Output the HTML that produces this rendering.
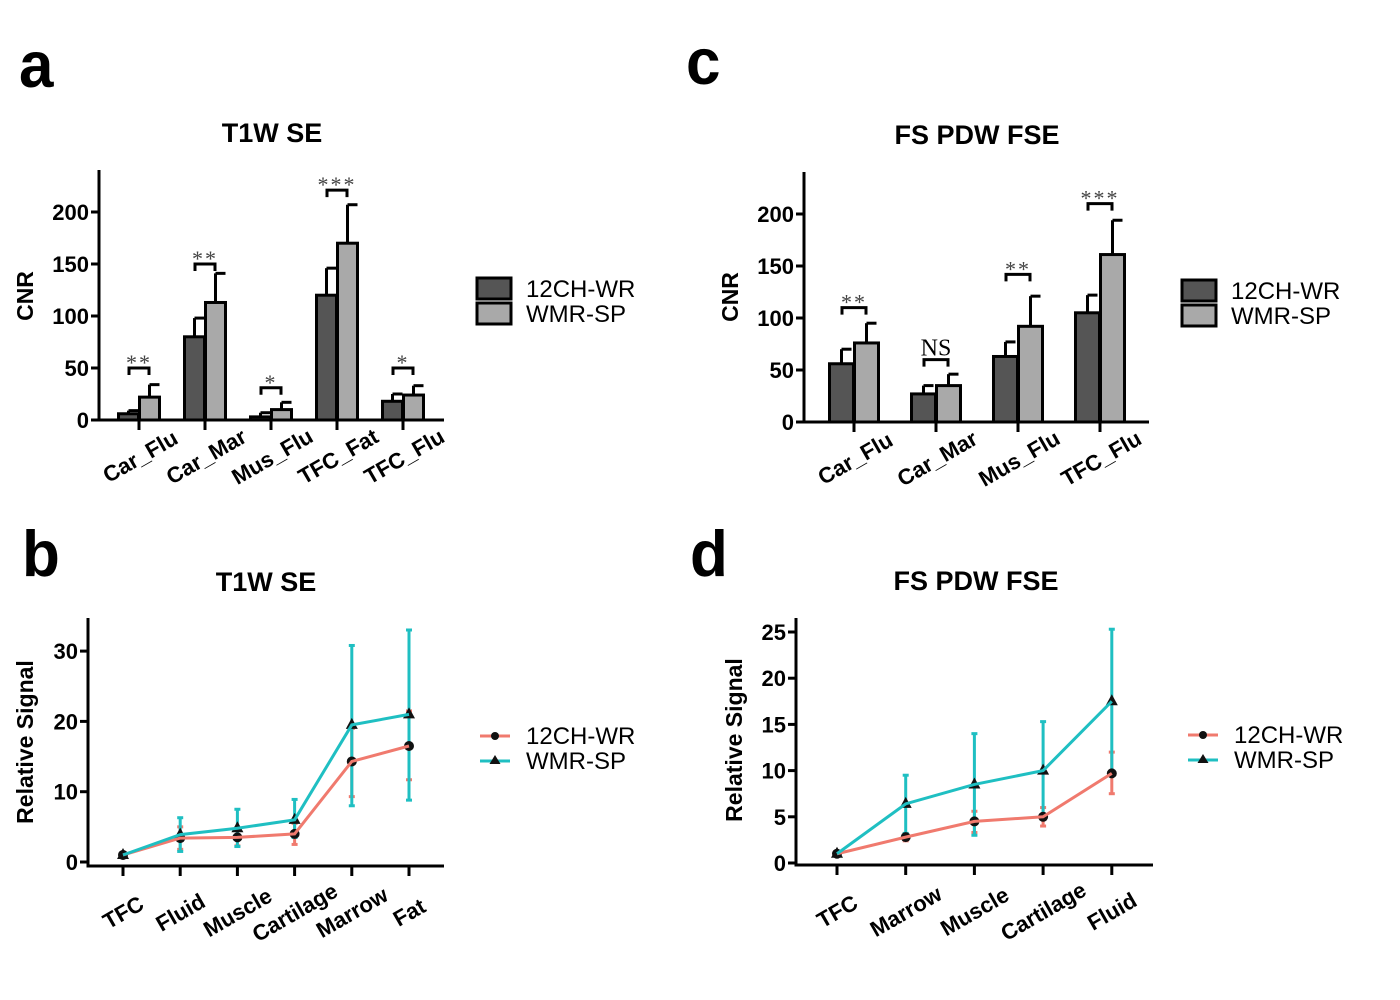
<!DOCTYPE html>
<html><head><meta charset="utf-8"><style>
html,body{margin:0;padding:0;background:#fff;}
svg{display:block;font-family:"Liberation Sans",Arial,sans-serif;}
</style></head><body>
<svg id="fig" width="1400" height="1000" viewBox="0 0 1400 1000"></svg>
<script>
// ---- Panel a data ----
const aCats = ["Car_Flu","Car_Mar","Mus_Flu","TFC_Fat","TFC_Flu"];
const aDark = [6,80,3,120,18];
const aDarkErr = [9,98,7,146,25];
const aLight = [22,113,10,170,24];
const aLightErr = [34,141,17,207,33];
const aSig = ["**","**","*","***","*"];
const aSigY = [50,150,31,221,50];
const aTicks = [0,50,100,150,200];
// ---- Panel c data ----
const cCats = ["Car_Flu","Car_Mar","Mus_Flu","TFC_Flu"];
const cDark = [56,27,63,105];
const cDarkErr = [70,35,77,122];
const cLight = [76,35,92,161];
const cLightErr = [95,46,121,194];
const cSig = ["**","NS","**","***"];
const cSigY = [110,60,142,210];
const cTicks = [0,50,100,150,200];
// ---- Panel b data ----
const bCats = ["TFC","Fluid","Muscle","Cartilage","Marrow","Fat"];
const bRed = [1,3.4,3.5,4,14.3,16.5];
const bRedLo = [1,1.8,2.3,2.5,9.3,11.7];
const bRedHi = [1,5,4.7,5.5,19,21.5];
const bTeal = [1,3.9,4.8,6,19.5,21];
const bTealLo = [1,1.5,2.2,3.5,8,8.8];
const bTealHi = [1,6.3,7.5,8.9,30.8,33];
const bTicks = [0,10,20,30];
// ---- Panel d data ----
const dCats = ["TFC","Marrow","Muscle","Cartilage","Fluid"];
const dRed = [1,2.8,4.5,5,9.7];
const dRedLo = [1,2.4,3.3,4,7.5];
const dRedHi = [1,3.2,5.6,6,12];
const dTeal = [1,6.4,8.5,10,17.5];
const dTealLo = [1,3.2,3,5,9.8];
const dTealHi = [1,9.5,14,15.3,25.3];
const dTicks = [0,5,10,15,20,25];

const NS="http://www.w3.org/2000/svg";
const svg=document.getElementById('fig');
function el(tag,attrs,parent,text){const e=document.createElementNS(NS,tag);for(const k in attrs)e.setAttribute(k,attrs[k]);if(text!==undefined)e.textContent=text;(parent||svg).appendChild(e);return e;}

function text(x,y,s,size,opts){opts=opts||{};const t=el('text',{x:x,y:y,'font-size':size,'font-weight':opts.weight||'bold','text-anchor':opts.anchor||'middle',fill:'#000'},opts.parent,s);if(opts.rot!==undefined)t.setAttribute('transform','rotate('+opts.rot+' '+(opts.rx!==undefined?opts.rx:x)+' '+(opts.ry!==undefined?opts.ry:y)+')');return t;}

[["a",19,87],["c",686,84],["b",22,576],["d",690,576]].forEach(p=>{
  const t=el('text',{x:0,y:0,'font-size':62,'font-weight':'bold',transform:'translate('+p[1]+','+p[2]+') scale(1.0,1.05)'},null,p[0]);
  
  
});
[["T1W SE",272,142,"title-a"],["FS PDW FSE",977,144,"title-c"],["T1W SE",266,591,"title-b"],["FS PDW FSE",976,590,"title-d"]].forEach(p=>{
  const t=text(p[1],p[2],p[0],27);
  
  
});

function catLabel(g,cx,cy,s){
  const cl=text(cx,cy+8,s,22,{anchor:'middle',rot:-30,rx:cx,ry:cy,parent:g});
  
  
}

function barPanel(cfg){
  const g=el('g',{});
  
  
  const y=v=>cfg.y0-v*cfg.k;
  el('line',{x1:cfg.x0,y1:cfg.yTop,x2:cfg.x0,y2:cfg.y0+1.5,stroke:'#000','stroke-width':3},g);
  el('line',{x1:cfg.x0,y1:cfg.y0,x2:cfg.xEnd,y2:cfg.y0,stroke:'#000','stroke-width':3},g);
  cfg.ticks.forEach(t=>{
    el('line',{x1:cfg.x0-8,y1:y(t),x2:cfg.x0,y2:y(t),stroke:'#000','stroke-width':3},g);
    const lb=text(cfg.x0-10,y(t)+8,String(t),22,{anchor:'end',parent:g});
    
    
  });
  const yl=text(cfg.ylx,cfg.yly,'CNR',23,{rot:-90,parent:g});
  
  
  cfg.cats.forEach((c,i)=>{
    const cx=cfg.cx0+i*cfg.step, w=cfg.bw;
    el('line',{x1:cx,y1:cfg.y0,x2:cx,y2:cfg.y0+10,stroke:'#000','stroke-width':3},g);
    [[cfg.dark,cfg.darkErr,'#555555',cx-w],[cfg.light,cfg.lightErr,'#a9a9a9',cx]].forEach((s,j)=>{
      const v=s[0][i], e=s[1][i], bx=s[3]+(j===0?-0.5:0.5);
      const ex=bx+w/2;
      el('line',{x1:ex,y1:y(v),x2:ex,y2:y(e),stroke:'#000','stroke-width':3},g);
      el('line',{x1:ex,y1:y(e),x2:ex+10,y2:y(e),stroke:'#000','stroke-width':3},g);
      const r=el('rect',{x:bx,y:y(v),width:w,height:v*cfg.k,fill:s[2],stroke:'#000','stroke-width':3},g);
      
      
    });
    const by=y(cfg.sigY[i]), x1=cx-w/2, x2=cx+w/2;
    el('path',{d:'M'+x1+' '+(by+7)+'V'+by+'H'+x2+'V'+(by+7),fill:'none',stroke:'#000','stroke-width':3},g);
    const st=el('text',{x:cx,y:by-(cfg.sig[i]==='NS'?4:-2),'font-size':cfg.sig[i]==='NS'?24:22,'text-anchor':'middle','font-family':'"Liberation Serif",serif',fill:cfg.sig[i]==='NS'?'#000':'#444','letter-spacing':cfg.sig[i]==='NS'?0:2},g,cfg.sig[i]);
    
    
    catLabel(g,cx+1,cfg.y0+36,c);
  });
  const lg=el('g',{},g);
  
  
  [['12CH-WR','#555555',0],['WMR-SP','#a9a9a9',25]].forEach(L=>{
    const r=el('rect',{x:cfg.lx,y:cfg.ly+L[2],width:34,height:21,fill:L[1],stroke:'#000','stroke-width':3},lg);
    
    
    const t=text(cfg.lx+49,cfg.ly+L[2]+19,L[0],24,{anchor:'start',weight:'normal',parent:lg});
    
    
  });
}

barPanel({name:'panel-a-chart',x0:99,y0:420,yTop:170,xEnd:444,k:1.04,ticks:aTicks,cats:aCats,dark:aDark,darkErr:aDarkErr,light:aLight,lightErr:aLightErr,sig:aSig,sigY:aSigY,cx0:139,step:66,bw:20,ylx:33,yly:296,lx:477,ly:278});
barPanel({name:'panel-c-chart',x0:804,y0:422,yTop:172,xEnd:1149,k:1.04,ticks:cTicks,cats:cCats,dark:cDark,darkErr:cDarkErr,light:cLight,lightErr:cLightErr,sig:cSig,sigY:cSigY,cx0:854,step:82,bw:24,ylx:738,yly:297,lx:1182,ly:280});

function linePanel(cfg){
  const g=el('g',{});
  
  
  const y=v=>cfg.y0-v*cfg.k;
  const X=i=>cfg.cx0+i*cfg.step;
  el('line',{x1:cfg.x0,y1:cfg.yTop,x2:cfg.x0,y2:cfg.yAx+1.5,stroke:'#000','stroke-width':3},g);
  el('line',{x1:cfg.x0,y1:cfg.yAx,x2:cfg.xEnd,y2:cfg.yAx,stroke:'#000','stroke-width':3},g);
  cfg.ticks.forEach(t=>{
    el('line',{x1:cfg.x0-8,y1:y(t),x2:cfg.x0,y2:y(t),stroke:'#000','stroke-width':3},g);
    const lb=text(cfg.x0-10,y(t)+8,String(t),22,{anchor:'end',parent:g});
    
    
  });
  const yl=text(cfg.ylx,cfg.yly,'Relative Signal',23,{rot:-90,parent:g});
  
  
  cfg.cats.forEach((c,i)=>{
    el('line',{x1:X(i),y1:cfg.yAx,x2:X(i),y2:cfg.yAx+10,stroke:'#000','stroke-width':3},g);
    catLabel(g,X(i),cfg.yAx+46,c);
  });
  const series=[['12ch-wr',cfg.red,cfg.redLo,cfg.redHi,'#f07a6e','circle'],['wmr-sp',cfg.teal,cfg.tealLo,cfg.tealHi,'#1fbfc2','tri']];
  series.forEach(s=>{
    s[1].forEach((v,i)=>{
      if(s[2][i]===s[3][i])return;
      const x=X(i);
      el('line',{x1:x,y1:y(s[2][i]),x2:x,y2:y(s[3][i]),stroke:s[4],'stroke-width':3},g);
      el('line',{x1:x-3,y1:y(s[2][i]),x2:x+3,y2:y(s[2][i]),stroke:s[4],'stroke-width':3},g);
      el('line',{x1:x-3,y1:y(s[3][i]),x2:x+3,y2:y(s[3][i]),stroke:s[4],'stroke-width':3},g);
    });
  });
  series.forEach(s=>{
    s[1].forEach((v,i)=>{
      const x=X(i),yy=y(v);
      let m;
      if(s[5]==='circle') m=el('circle',{cx:x,cy:yy,r:5,fill:'#111'},g);
      else m=el('path',{d:'M'+x+' '+(yy-7)+'L'+(x+6)+' '+(yy+4)+'L'+(x-6)+' '+(yy+4)+'Z',fill:'#111'},g);
      
      
    });
  });
  series.forEach(s=>{
    const p=el('polyline',{points:s[1].map((v,i)=>X(i)+','+y(v)).join(' '),fill:'none',stroke:s[4],'stroke-width':3},g);
    
    
  });
  const lg=el('g',{},g);
  
  
  [['12CH-WR','#f07a6e',0,'circle'],['WMR-SP','#1fbfc2',25,'tri']].forEach(L=>{
    const yy=cfg.ly+L[2];
    el('line',{x1:cfg.lx,y1:yy,x2:cfg.lx+30,y2:yy,stroke:L[1],'stroke-width':3},lg);
    const cx=cfg.lx+15;
    if(L[3]==='circle') el('circle',{cx:cx,cy:yy,r:4,fill:'#111'},lg);
    else el('path',{d:'M'+cx+' '+(yy-6)+'L'+(cx+5.5)+' '+(yy+3)+'L'+(cx-5.5)+' '+(yy+3)+'Z',fill:'#111'},lg);
    const t=text(cfg.lx+46,yy+8,L[0],24,{anchor:'start',weight:'normal',parent:lg});
    
    
  });
}

linePanel({name:'panel-b-chart',x0:88,y0:862,yAx:866,yTop:618,xEnd:444,k:7.03,ticks:bTicks,cats:bCats,red:bRed,redLo:bRedLo,redHi:bRedHi,teal:bTeal,tealLo:bTealLo,tealHi:bTealHi,cx0:123,step:57.2,ylx:33,yly:742,lx:480,ly:736});
linePanel({name:'panel-d-chart',x0:796,y0:863,yAx:865,yTop:618,xEnd:1153,k:9.24,ticks:dTicks,cats:dCats,red:dRed,redLo:dRedLo,redHi:dRedHi,teal:dTeal,tealLo:dTealLo,tealHi:dTealHi,cx0:837,step:68.7,ylx:742,yly:740,lx:1188,ly:735});
</script>
</body></html>
